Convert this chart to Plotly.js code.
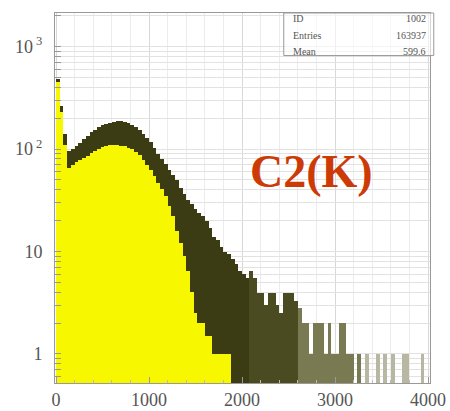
<!DOCTYPE html>
<html>
<head>
<meta charset="utf-8">
<script src="https://cdn.plot.ly/plotly-3.0.1.min.js"></script>
<style>html,body{margin:0;padding:0;background:#fff;}#chart{width:450px;height:411px;}</style>
</head>
<body>
<div id="chart"></div>
<script>
// Bin centres (bin width 40)
const binCenters = [20,60,100,140,180,220,260,300,340,380,420,460,500,540,580,620,660,700,740,780,
  820,860,900,940,980,1020,1060,1100,1140,1180,1220,1260,1300,1340,1380,1420,1460,1500,1540,1580,
  1620,1660,1700,1740,1780,1820,1860,1900,1940,1980,2020,2060,2100,2140,2180,2220,2260,2300,2340,2380,
  2420,2460,2500,2540,2580,2620,2660,2700,2740,2780,2820,2860,2900,2940,2980,3020,3060,3100,3140,3180,
  3220,3260,3300,3340,3380,3420,3460,3500,3540,3580,3620,3660,3700,3740,3780,3820,3860,3900,3940,3980];
// Upper envelope of the fluctuating histogram (dark band)
const upperCounts = [480,260,140,95,100,108,115,125,135,148,155,163,170,176,180,184,186,186,184,178,
  172,163,152,140,128,118,103,90,80,72,63,56,50,42,36,32,29,26,24,22,
  20,17,14,13,11,10,9.5,8.5,7.5,6.5,6,5.5,6.4,5.5,3.9,3.9,3,3.9,3.9,3,
  2.5,3.9,3.9,3.9,3.3,2.8,2,2,1,2,2,2,1,2,1,1,2,2,1,1,
  null,1,null,1,null,null,1,null,1,null,1,null,null,1,1,null,null,null,1,null];
// Lower envelope (yellow fill)
const lowerCounts = [450,230,110,66,70,74,78,82,86,91,96,100,104,107,109,110,110,108,106,103,
  99,93,87,79,70,62,54,47,41,35,28,22,16,12,9,6.5,4,2.5,2,2,
  1.5,1.5,1,1,1,1,1,null,null,null,null,null,null,null,null,null,null,null,null,null,
  null,null,null,null,null,null,null,null,null,null,null,null,null,null,null,null,null,null,null,null,
  null,null,null,null,null,null,null,null,null,null,null,null,null,null,null,null,null,null,null,null];
const yTickVals = [1,10,100,1000];
const yTickText = ['1','10','10<sup> 2</sup>','10<sup> 3</sup>'];
const xTickVals = [0,1000,2000,3000,4000];
const statLabels = ['ID','Entries','Mean'];
const statValues = ['1002','163937','599.6'];

const SERIF = 'Liberation Serif, Times New Roman, serif';

// minor grid positions for log axis
const yGrid = [];
for (const d of [0.1,1,10,100,1000]) for (let k=1;k<10;k++) { const v=d*k; if (v>0.5 && v<2200) yGrid.push(v); }
const yGridText = yGrid.map(v => { const i = yTickVals.indexOf(v); return i>=0 ? yTickText[i] : ''; });

const upperColors = binCenters.map(x => x < 2080 ? '#3b3b14' : (x < 2600 ? '#4b4b22' : (x < 3300 ? '#7a7a52' : '#b8b8a2')));

const traces = [
  {type:'bar', x:binCenters, y:upperCounts, width:40, marker:{color:upperColors, line:{width:0}}, hoverinfo:'skip'},
  {type:'bar', x:binCenters, y:lowerCounts, width:40, marker:{color:'#f7f700', line:{width:0}}, hoverinfo:'skip'}
];

const ann = [{xref:'paper', yref:'paper', x:0.685, y:0.572, xanchor:'center', yanchor:'middle', text:'<b>C2(K)</b>', showarrow:false,
  font:{family:SERIF, size:46, color:'#cc3a06'}}];
statLabels.forEach((s,i)=>{
  ann.push({xref:'paper', yref:'paper', x:0.63, y:0.985 - i*0.045, xanchor:'left', yanchor:'middle', text:s, showarrow:false, font:{family:SERIF, size:10, color:'#555'}});
  ann.push({xref:'paper', yref:'paper', x:0.995, y:0.985 - i*0.045, xanchor:'right', yanchor:'middle', text:statValues[i], showarrow:false, font:{family:SERIF, size:10, color:'#555'}});
});

const layout = {
  width:450, height:411,
  margin:{l:55, r:20, t:13, b:28},
  font:{family:SERIF},
  paper_bgcolor:'#ffffff', plot_bgcolor:'#ffffff',
  barmode:'overlay', bargap:0, showlegend:false,
  xaxis:{range:[-11,4021], tickvals:xTickVals, ticks:'inside', ticklen:6, tickcolor:'#999',
    showgrid:true, gridcolor:'#d8d8d8', gridwidth:1, zeroline:false,
    minor:{dtick:200, showgrid:true, gridcolor:'#ececec', ticks:'inside', ticklen:3, tickcolor:'#bbb'},
    showline:true, mirror:true, linecolor:'#999', linewidth:1,
    tickfont:{family:SERIF, size:18, color:'#555'}},
  yaxis:{type:'log', range:[-0.283,3.327], tickvals:yGrid, ticktext:yGridText, ticks:'inside', ticklen:6, tickcolor:'#999',
    ticklabelstandoff:8,
    showgrid:true, gridcolor:'#e2e2e2', gridwidth:1, zeroline:false,
    showline:true, mirror:true, linecolor:'#999', linewidth:1,
    tickfont:{family:SERIF, size:18, color:'#555'}},
  shapes:[{type:'rect', xref:'paper', yref:'paper', x0:0.61, x1:1.01, y0:0.885, y1:1.0, line:{color:'#999', width:1}, fillcolor:'rgba(255,255,255,0.6)'}],
  annotations:ann
};
Plotly.newPlot('chart', traces, layout, {staticPlot:true});
</script>
</body>
</html>
